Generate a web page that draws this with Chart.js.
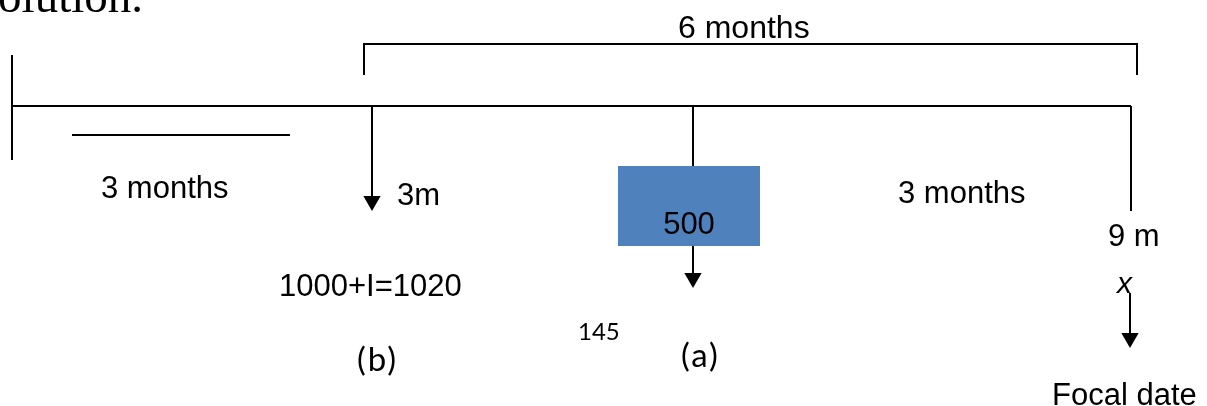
<!DOCTYPE html>
<html>
<head>
<meta charset="utf-8">
<script src="https://cdn.jsdelivr.net/npm/chart.js@4.4.1/dist/chart.umd.min.js"></script>
<style>
    html, body { margin: 0; padding: 0; background: #fff; }
    #wrap { width: 1207px; height: 406px; }
</style>
</head>
<body>
<div id="wrap"><canvas id="timeline" width="1207" height="406"></canvas></div>
<script>
// Time diagram, in page units (x 0..1207 across, y 0..406 down)

var mainLine      = [[12, 106], [1131, 106]];
var startMark     = [[12, 55], [12, 160]];
var firstPeriod   = [[72, 135], [290, 135]];
var sixMonthBrace = [[364, 75], [364, 44], [1137, 44], [1137, 75]];
var stem3m        = [[372, 106], [372, 202]];
var stem6mTop     = [[693, 106], [693, 166]];
var stem6mLow     = [[693, 246], [693, 279]];
var stem9m        = [[1131, 106], [1131, 211]];
var stemFocal     = [[1130, 293], [1130, 339]];
var box500        = [[618, 166], [760, 166], [760, 246], [618, 246], [618, 166]];
var arrowTips     = [[372, 211], [693, 288], [1130, 348]];

var labelText = ['olution.', '6 months', '3 months', '3m', '500', '3 months', '9 m',
                 '1000+I=1020', 'x', 'Focal date', '145', '(a)', '(b)'];
var labelAt   = [[143, 12], [678, 38], [101, 198], [397, 205], [689, 234], [898, 203], [1108, 246],
                 [279, 296], [1117, 293], [1052, 405], [578, 340], [681, 367], [357, 371]];
var labelFont = ['47px "Liberation Serif"', '32px "Liberation Sans"', '31px "Liberation Sans"',
                 '31px "Liberation Sans"', '31px "Liberation Sans"', '31px "Liberation Sans"',
                 '31px "Liberation Sans"', '31px "Liberation Sans"', 'italic 30px "Liberation Sans"',
                 '31px "Liberation Sans"', '24px Lato', '33px Lato', '33px Lato'];
var labelAlign = ['right', 'left', 'left', 'left', 'center', 'left', 'left',
                  'left', 'left', 'left', 'left', 'left', 'left'];
var labelGap   = ['0px', '0px', '0px', '0px', '0px', '0px', '0px',
                  '0px', '0px', '0px', '0px', '2px', '2px'];

var headSize = 10;

function pts(list) {
    return list.map(function(p) { return {x: p[0], y: p[1]}; });
}

function seg(list, extra) {
    return Object.assign({
        data: pts(list),
        showLine: true,
        borderColor: '#000',
        borderWidth: 2,
        pointRadius: 0,
        fill: false,
        tension: 0
    }, extra || {});
}

var labelPlugin = {
    id: 'labels',
    afterDatasetsDraw: function(chart) {
        var ctx = chart.ctx, xs = chart.scales.x, ys = chart.scales.y;
        ctx.save();
        ctx.fillStyle = '#000';
        ctx.textBaseline = 'alphabetic';
        labelText.forEach(function(t, i) {
            ctx.font = labelFont[i];
            ctx.textAlign = labelAlign[i];
            ctx.letterSpacing = labelGap[i];
            ctx.fillText(t, xs.getPixelForValue(labelAt[i][0]), ys.getPixelForValue(labelAt[i][1]));
        });
        ctx.restore();
    }
};

var datasets = [
    seg(box500, {fill: 'shape', borderWidth: 0, backgroundColor: '#4F81BD'}),
    seg(mainLine),
    seg(startMark),
    seg(firstPeriod),
    seg(sixMonthBrace),
    seg(stem3m),
    seg(stem6mTop),
    seg(stem6mLow),
    seg(stem9m),
    seg(stemFocal),
    {
        data: arrowTips.map(function(p) { return {x: p[0], y: p[1] - headSize}; }),
        showLine: false,
        pointStyle: 'triangle',
        rotation: 180,
        pointRadius: headSize,
        pointBackgroundColor: '#000',
        pointBorderWidth: 0,
        clip: false
    }
];

var ctx = document.getElementById('timeline').getContext('2d');
new Chart(ctx, {
    type: 'scatter',
    data: {datasets: datasets},
    options: {
        responsive: false,
        animation: false,
        devicePixelRatio: 1,
        layout: {padding: 0, autoPadding: false},
        plugins: {legend: {display: false}, tooltip: {enabled: false}},
        scales: {
            x: {type: 'linear', min: 0, max: 1207, display: false},
            y: {type: 'linear', min: 0, max: 406, reverse: true, display: false}
        }
    },
    plugins: [labelPlugin]
});
</script>
</body>
</html>
